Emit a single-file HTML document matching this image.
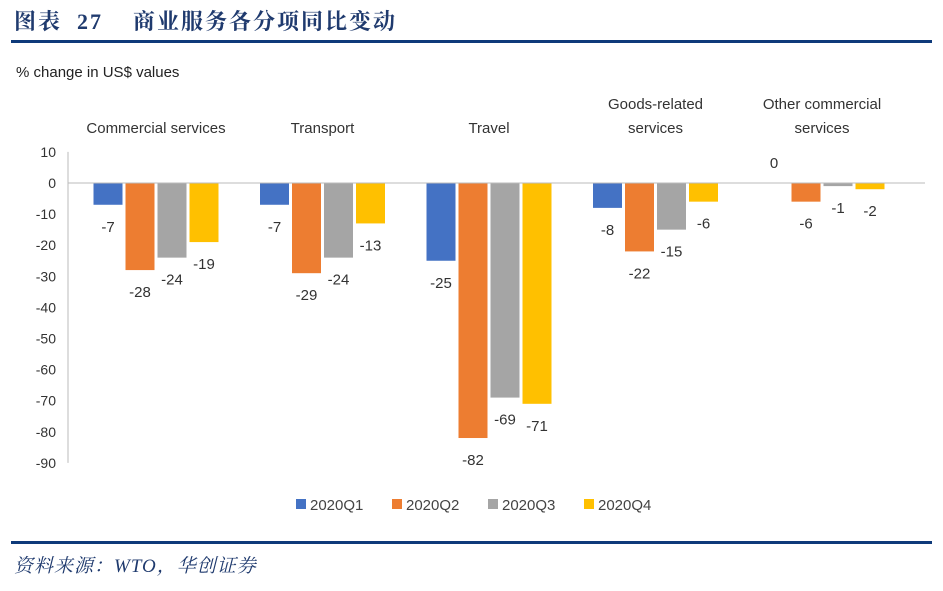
<!DOCTYPE html>
<html><head><meta charset="utf-8"><style>
body{margin:0;width:943px;height:591px;background:#fff;overflow:hidden;position:relative;font-family:"Liberation Sans","Noto Sans CJK SC",sans-serif}
.title{position:absolute;left:14px;top:5px;font:bold 22px "Liberation Serif","Noto Serif CJK SC",serif;color:#1F3A6E;letter-spacing:2px;white-space:pre}
.rule{position:absolute;left:11px;width:921px;height:3px;background:#0E3A7A}
.foot{position:absolute;left:14px;top:551px;font:italic 19px "Liberation Serif","Noto Serif CJK SC",serif;color:#1F3A6E;letter-spacing:1px}
</style></head><body>
<div class="title">图表  27    商业服务各分项同比变动</div>
<div class="rule" style="top:40px"></div>
<div class="rule" style="top:541px"></div>
<div class="foot">资料来源：WTO，华创证券</div>
<svg id="c" width="943" height="591" style="position:absolute;left:0;top:0"></svg>
<script>
const categories=[["Commercial services"],["Transport"],["Travel"],["Goods-related","services"],["Other commercial","services"]];
const seriesNames=["2020Q1","2020Q2","2020Q3","2020Q4"];
const q1=[-7,-7,-25,-8,0];
const q2=[-28,-29,-82,-22,-6];
const q3=[-24,-24,-69,-15,-1];
const q4=[-19,-13,-71,-6,-2];
const yTicks=[10,0,-10,-20,-30,-40,-50,-60,-70,-80,-90];
const colors=["#4472C4","#ED7D31","#A5A5A5","#FFC000"];
const series=[q1,q2,q3,q4];
const svg=document.getElementById('c');const NS="http://www.w3.org/2000/svg";
function y(v){return 183-v*3.11;}
function xc(i){return 156+i*166.5;}
function mk(t,a,txt){const e=document.createElementNS(NS,t);for(const k in a)e.setAttribute(k,a[k]);if(txt!==undefined)e.textContent=txt;svg.appendChild(e);return e;}
let e=mk('text',{x:16,y:77,'font-size':15,fill:'#222'},'% change in US$ values');


e=mk('line',{x1:68,y1:y(10),x2:68,y2:y(-90),stroke:'#bbb'});


yTicks.forEach(t=>{const l=mk('text',{x:56,y:y(t)+5,'font-size':14,fill:'#333','text-anchor':'end'},String(t));

});
categories.forEach((c,i)=>{c.forEach((line,j)=>{const t=mk('text',{x:xc(i),y:133-(c.length-1-j)*24,'font-size':15,fill:'#333','text-anchor':'middle'},line);

});});
series.forEach((s,k)=>{s.forEach((v,i)=>{const cx=xc(i)+(k-1.5)*32;const y0=y(0),y1=y(v);
const r=mk('rect',{x:cx-14.5,y:Math.min(y0,y1),width:29,height:Math.max(Math.abs(y1-y0),0.01),fill:colors[k]});


const ly=v<0?y1+27:y1-15;
const l=mk('text',{x:cx,y:ly,'font-size':15,fill:'#333','text-anchor':'middle'},String(v));

});});
e=mk('line',{x1:68,y1:y(0),x2:925,y2:y(0),stroke:'#bbb'});


seriesNames.forEach((n,k)=>{const lx=296+k*96;
const r=mk('rect',{x:lx,y:499,width:10,height:10,fill:colors[k]});


const t=mk('text',{x:lx+14,y:510,'font-size':15,fill:'#444'},n);

});
</script>
</body></html>
